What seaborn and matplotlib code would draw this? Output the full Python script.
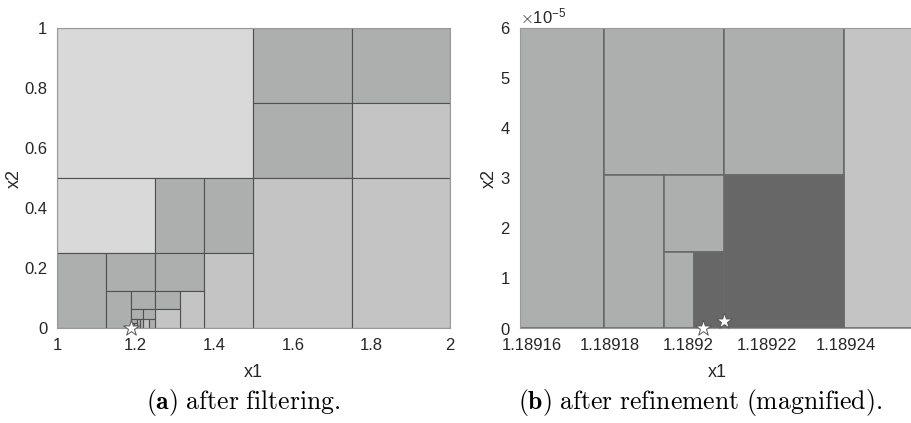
import matplotlib
matplotlib.use("Agg")
import matplotlib.pyplot as plt
import seaborn as sns
import pandas as pd
from matplotlib.patches import Rectangle
from matplotlib.ticker import FixedLocator, FixedFormatter

# ---------------- data ----------------
# shade codes: L light, D dark, M mid, X darkest
left_x0 = [1.0, 1.5, 1.75, 1.5, 1.75, 1.5, 1.75, 1.0, 1.25, 1.375, 1.0, 1.125, 1.25, 1.375,
           1.125, 1.1875, 1.25, 1.3125, 1.25, 1.1875, 1.21875, 1.21875, 1.234375,
           1.1875, 1.203125, 1.2109375, 1.1875, 1.1953125]
left_x1 = [1.5, 1.75, 2.0, 1.75, 2.0, 1.75, 2.0, 1.25, 1.375, 1.5, 1.125, 1.25, 1.375, 1.5,
           1.1875, 1.25, 1.3125, 1.375, 1.3125, 1.21875, 1.25, 1.234375, 1.25,
           1.203125, 1.2109375, 1.21875, 1.1953125, 1.203125]
left_y0 = [0.5, 0.75, 0.75, 0.5, 0.5, 0.0, 0.0, 0.25, 0.25, 0.25, 0.0, 0.125, 0.125, 0.0,
           0.0, 0.0625, 0.0625, 0.0, 0.0, 0.03125, 0.03125, 0.0, 0.0,
           0.015625, 0.0, 0.0, 0.0, 0.0]
left_y1 = [1.0, 1.0, 1.0, 0.75, 0.75, 0.5, 0.5, 0.5, 0.5, 0.5, 0.25, 0.25, 0.25, 0.25,
           0.125, 0.125, 0.125, 0.125, 0.0625, 0.0625, 0.0625, 0.03125, 0.03125,
           0.03125, 0.03125, 0.03125, 0.015625, 0.015625]
left_shade = ["L", "D", "D", "D", "M", "M", "M", "L", "D", "D", "D", "D", "D", "M",
              "D", "D", "D", "M", "M", "D", "D", "M", "D",
              "D", "D", "D", "D", "D"]

right_x0 = [1.18914795, 1.18917847, 1.18920898, 1.18923950, 1.18920898,
            1.18917847, 1.18919373, 1.18919373, 1.18920135]
right_x1 = [1.18917847, 1.18920898, 1.18923950, 1.18927002, 1.18923950,
            1.18919373, 1.18920898, 1.18920135, 1.18920898]
right_y0 = [0.0, 3.0518e-5, 3.0518e-5, 0.0, 0.0, 0.0, 1.5259e-5, 0.0, 0.0]
right_y1 = [6.1035e-5, 6.1035e-5, 6.1035e-5, 6.1035e-5, 3.0518e-5,
            3.0518e-5, 3.0518e-5, 1.5259e-5, 1.5259e-5]
right_shade = ["D", "D", "D", "M", "X", "D", "D", "D", "X"]

left_star_x = [1.1892]
left_star_y = [0.0]
right_star_x = [1.1892037, 1.1892090]
right_star_y = [0.0, 1.5e-6]

left_xticks = [1.0, 1.2, 1.4, 1.6, 1.8, 2.0]
left_xticklabels = ["1", "1.2", "1.4", "1.6", "1.8", "2"]
left_yticks = [0.0, 0.2, 0.4, 0.6, 0.8, 1.0]
left_yticklabels = ["0", "0.2", "0.4", "0.6", "0.8", "1"]
right_xticks = [1.18916, 1.18918, 1.18920, 1.18922, 1.18924]
right_xticklabels = ["1.18916", "1.18918", "1.1892", "1.18922", "1.18924"]
right_yticks = [0.0, 1e-5, 2e-5, 3e-5, 4e-5, 5e-5, 6e-5]

caption_a = r"$\mathbf{(a)}\ \mathrm{after\ filtering.}$"
caption_b = r"$\mathbf{(b)}\ \mathrm{after\ refinement\ (magnified).}$"

# ---------------- style ----------------
sns.set_theme(style="white")
plt.rcParams["font.family"] = ["Liberation Sans", "DejaVu Sans"]
plt.rcParams["mathtext.fontset"] = "cm"

shade_colors = {"L": "#d9d9d9", "D": "#adaeae", "M": "#c4c4c4", "X": "#676767"}
txt = "#262626"

W, H = 912, 423
fig = plt.figure(figsize=(W / 100, H / 100), dpi=100)
ax1 = fig.add_axes([57 / W, (H - 328) / H, 393 / W, 300 / H])
ax2 = fig.add_axes([520 / W, (H - 328) / H, 395 / W, 300 / H])


def draw_rects(ax, x0, x1, y0, y1, shade, lw, ec):
    for a, b, c, d, s in zip(x0, x1, y0, y1, shade):
        ax.add_patch(Rectangle((a, c), b - a, d - c, facecolor=shade_colors[s],
                               edgecolor=ec, linewidth=lw, zorder=1))


draw_rects(ax1, left_x0, left_x1, left_y0, left_y1, left_shade, 0.8, "#505050")
draw_rects(ax2, right_x0, right_x1, right_y0, right_y1, right_shade, 1.2, "#6a6a6a")

for ax, sx, sy in ((ax1, left_star_x, left_star_y), (ax2, right_star_x, right_star_y)):
    df = pd.DataFrame({"x": sx, "y": sy})
    sns.scatterplot(data=df, x="x", y="y", ax=ax, marker="*", s=140, color="white",
                    edgecolor="#555555", linewidth=0.7, zorder=5, clip_on=False,
                    legend=False)

ax1.set_xlim(1.0, 2.0)
ax1.set_ylim(0.0, 1.0)
ax2.set_xlim(1.1891571, 1.1892576)
ax2.set_ylim(0.0, 6e-5)

ax1.xaxis.set_major_locator(FixedLocator(left_xticks))
ax1.xaxis.set_major_formatter(FixedFormatter(left_xticklabels))
ax1.yaxis.set_major_locator(FixedLocator(left_yticks))
ax1.yaxis.set_major_formatter(FixedFormatter(left_yticklabels))
ax2.xaxis.set_major_locator(FixedLocator(right_xticks))
ax2.xaxis.set_major_formatter(FixedFormatter(right_xticklabels))
ax2.set_yticks(right_yticks)
ax2.ticklabel_format(axis="y", style="sci", scilimits=(0, 0), useMathText=True)

for ax in (ax1, ax2):
    ax.set_xlabel("x1", fontsize=13, color=txt, labelpad=8)
    ax.set_ylabel("x2", fontsize=13, color=txt, labelpad=1)
    ax.tick_params(axis="both", direction="in", length=3, width=0.6, color="#8a8a8a",
                   labelsize=12, labelcolor=txt, pad=7, top=True, right=True)
    for sp in ax.spines.values():
        sp.set_color("#9a9a9a")
        sp.set_linewidth(0.8)
        sp.set_zorder(3)
    ax.set_facecolor("white")

ax2.yaxis.get_offset_text().set_fontsize(12)
ax2.yaxis.get_offset_text().set_color(txt)

fig.text(243 / W, 1 - 402 / H, caption_a, ha="center", va="center", fontsize=18.5, color="black")
fig.text(700 / W, 1 - 402 / H, caption_b, ha="center", va="center", fontsize=18.5, color="black")

fig.savefig("out.png", dpi=100)
